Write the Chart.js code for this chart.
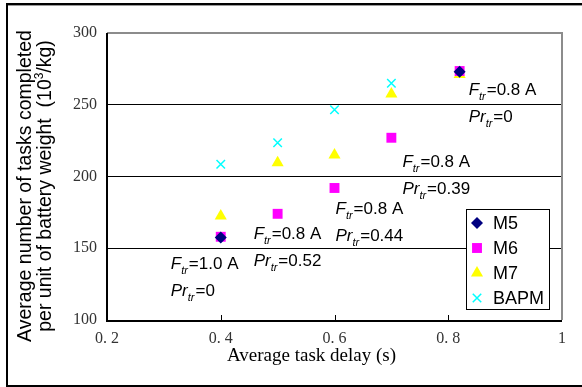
<!DOCTYPE html>
<html>
<head>
<meta charset="utf-8">
<script src="https://cdn.jsdelivr.net/npm/chart.js@4/dist/chart.umd.min.js"></script>
<style>
  html, body { margin: 0; padding: 0; background: #fff; }
  #wrap { width: 582px; height: 387px; position: relative; }
</style>
</head>
<body>
<div id="wrap"><canvas id="chart"></canvas></div>
<script>
// --- data ---
const seriesNames = ['M5', 'M6', 'M7', 'BAPM'];

const m5X = [0.4, 0.82];
const m5Y = [157.5, 273];

const m6X = [0.4, 0.5, 0.6, 0.7, 0.82];
const m6Y = [158, 174, 192, 227, 273.5];

const m7X = [0.4, 0.5, 0.6, 0.7, 0.82];
const m7Y = [172.5, 209.5, 215, 257.5, 271];

const bapmX = [0.4, 0.5, 0.6, 0.7, 0.82];
const bapmY = [208.5, 223.5, 246.5, 265, 272];

const xTickValues = [0.2, 0.4, 0.6, 0.8, 1];
const xTickLabels = ['0. 2', '0. 4', '0. 6', '0. 8', '1'];
const yTickValues = [100, 150, 200, 250, 300];

// annotation text: current threshold / probability threshold, anchored on M6 points
const annoAnchorX = [0.4, 0.5, 0.6, 0.7, 0.82];
const annoAnchorY = [158, 174, 192, 227, 273.5];
const annoCurrent = ['1.0 A', '0.8 A', '0.8 A', '0.8 A', '0.8 A'];
const annoProb = ['0', '0.52', '0.44', '0.39', '0'];

const xTitle = 'Average task delay (s)';
const yTitle1 = 'Average number of tasks completed';
const yTitle2 = 'per unit of battery weight  (10';

const toPoints = (xs, ys) => xs.map((x, i) => ({ x: x, y: ys[i] }));

const SANS = "'Liberation Sans', Arial, sans-serif";
const SERIF = "'Liberation Serif', 'Times New Roman', serif";

// label offsets in px from the anchor point (layout only)
const annoOffsets = [[-50, 26], [-24, 19], [1, 20], [11, 23], [9, 18]];

// --- frame, titles, annotations, legend ---
const decorPlugin = {
    id: 'decor',
    beforeDraw(chart) {
        const ctx = chart.ctx;
        ctx.save();
        ctx.fillStyle = '#fff';
        ctx.fillRect(0, 0, chart.width, chart.height);
        ctx.restore();
    },
    afterDraw(chart) {
        const ctx = chart.ctx;
        const a = chart.chartArea;
        const xs = chart.scales.x;
        ctx.save();

        // outer frame
        ctx.strokeStyle = '#000';
        ctx.lineWidth = 2;
        ctx.strokeRect(7, 4, 600, 382);
        ctx.strokeStyle = '#999';
        ctx.lineWidth = 1;
        ctx.beginPath(); ctx.moveTo(8, 5.5); ctx.lineTo(582, 5.5); ctx.stroke();

        // plot frame
        ctx.strokeStyle = '#8c8c8c';
        ctx.lineWidth = 2;
        ctx.beginPath();
        ctx.moveTo(a.left, a.top); ctx.lineTo(a.right, a.top); ctx.lineTo(a.right, a.bottom);
        ctx.stroke();
        ctx.strokeStyle = '#000';
        ctx.beginPath();
        ctx.moveTo(a.left, a.top); ctx.lineTo(a.left, a.bottom + 1); ctx.lineTo(a.right, a.bottom + 1);
        ctx.stroke();
        // inner ticks on x axis
        ctx.lineWidth = 1;
        xTickValues.slice(1, -1).forEach(v => {
            const px = Math.round(xs.getPixelForValue(v)) + 0.5;
            ctx.beginPath(); ctx.moveTo(px, a.bottom); ctx.lineTo(px, a.bottom - 5); ctx.stroke();
        });

        // x title
        ctx.fillStyle = '#000';
        ctx.font = '19px ' + SERIF;
        ctx.textAlign = 'left';
        ctx.textBaseline = 'middle';
        ctx.fillText(xTitle, 227, 356);

        // y title (rotated, two lines)
        ctx.save();
        ctx.translate(26, 186);
        ctx.rotate(-Math.PI / 2);
        ctx.font = '19.5px ' + SANS;
        ctx.textAlign = 'center';
        ctx.fillText(yTitle1, 0, 0);
        const w2 = ctx.measureText(yTitle2).width;
        const supW = ctx.measureText('3').width * 0.6;
        const tail = '/kg)';
        const wt = ctx.measureText(tail).width;
        const total = w2 + supW + wt;
        let sx = -total / 2;
        ctx.textAlign = 'left';
        ctx.fillText(yTitle2, sx, 20);
        ctx.font = '12px ' + SANS;
        ctx.fillText('3', sx + w2, 14);
        ctx.font = '19.5px ' + SANS;
        ctx.fillText(tail, sx + w2 + supW, 20);
        ctx.restore();

        // annotations
        const ys = chart.scales.y;
        const drawSub = (main, value, x, y) => {
            ctx.textBaseline = 'alphabetic';
            ctx.font = 'italic 17px ' + SANS;
            ctx.fillText(main, x, y);
            let cx = x + ctx.measureText(main).width;
            ctx.font = 'italic 11px ' + SANS;
            ctx.fillText('tr', cx, y + 5);
            cx += ctx.measureText('tr').width + 1;
            ctx.font = '17px ' + SANS;
            ctx.fillText('=' + value, cx, y);
        };
        ctx.textAlign = 'left';
        annoAnchorX.forEach((v, i) => {
            const px = xs.getPixelForValue(v) + annoOffsets[i][0];
            const py = ys.getPixelForValue(annoAnchorY[i]) + annoOffsets[i][1];
            drawSub('F', annoCurrent[i], px, py + 6);
            drawSub('Pr', annoProb[i], px, py + 33);
        });

        // legend box
        const lx = 466, ly = 209, lw = 83, lh = 100;
        ctx.fillStyle = '#fff';
        ctx.fillRect(lx, ly, lw, lh);
        ctx.strokeStyle = '#000';
        ctx.lineWidth = 1;
        ctx.strokeRect(lx + 0.5, ly + 0.5, lw, lh);
        chart.data.datasets.forEach((ds, i) => {
            const cy = ly + 14 + i * 25;
            ctx.fillStyle = ds.backgroundColor;
            ctx.strokeStyle = ds.borderColor;
            ctx.lineWidth = ds.borderWidth;
            Chart.helpers.drawPoint(ctx, {
                pointStyle: ds.pointStyle, radius: ds.pointRadius, rotation: 0, borderWidth: ds.borderWidth
            }, 477, cy);
            ctx.fillStyle = '#000';
            ctx.font = '18px ' + SANS;
            ctx.textBaseline = 'middle';
            ctx.fillText(ds.label, 493, cy + 1);
        });

        ctx.restore();
    }
};

new Chart(document.getElementById('chart'), {
    type: 'scatter',
    data: {
        datasets: [
            { label: seriesNames[0], data: toPoints(m5X, m5Y), pointStyle: 'rectRot', pointRadius: 6,
              backgroundColor: '#000080', borderColor: '#000080', borderWidth: 0 },
            { label: seriesNames[1], data: toPoints(m6X, m6Y), pointStyle: 'rect', pointRadius: 7,
              backgroundColor: '#ff00ff', borderColor: '#ff00ff', borderWidth: 0 },
            { label: seriesNames[2], data: toPoints(m7X, m7Y), pointStyle: 'triangle', pointRadius: 7,
              backgroundColor: '#ffff00', borderColor: '#ffff00', borderWidth: 0 },
            { label: seriesNames[3], data: toPoints(bapmX, bapmY), pointStyle: 'crossRot', pointRadius: 6,
              backgroundColor: '#00ffff', borderColor: '#00ffff', borderWidth: 1.5 },
        ]
    },
    options: {
        responsive: true,
        maintainAspectRatio: false,
        animation: false,
        events: [],
        layout: { padding: { top: 33, right: 20, left: 0, bottom: 0 } },
        plugins: { legend: { display: false }, tooltip: { enabled: false } },
        scales: {
            x: {
                type: 'linear', min: 0.2, max: 1,
                afterFit: s => { s.height = 387 - 319 - 1; },
                afterBuildTicks: s => { s.ticks = xTickValues.map(v => ({ value: v })); },
                ticks: {
                    callback: (v, i) => xTickLabels[i],
                    font: { family: SERIF, size: 16 }, color: '#333', padding: 9, maxRotation: 0
                },
                grid: { display: false, drawTicks: false },
                border: { display: false }
            },
            y: {
                type: 'linear', min: 100, max: 300,
                afterFit: s => { s.width = 107; },
                afterBuildTicks: s => { s.ticks = yTickValues.map(v => ({ value: v })); },
                ticks: {
                    font: { family: SERIF, size: 16 }, color: '#333', padding: 10
                },
                grid: {
                    drawTicks: false, lineWidth: 1,
                    color: c => (c.tick && c.tick.value > 100 && c.tick.value < 300) ? '#000' : 'rgba(0,0,0,0)'
                },
                border: { display: false }
            }
        }
    },
    plugins: [decorPlugin]
});
</script>
</body>
</html>
